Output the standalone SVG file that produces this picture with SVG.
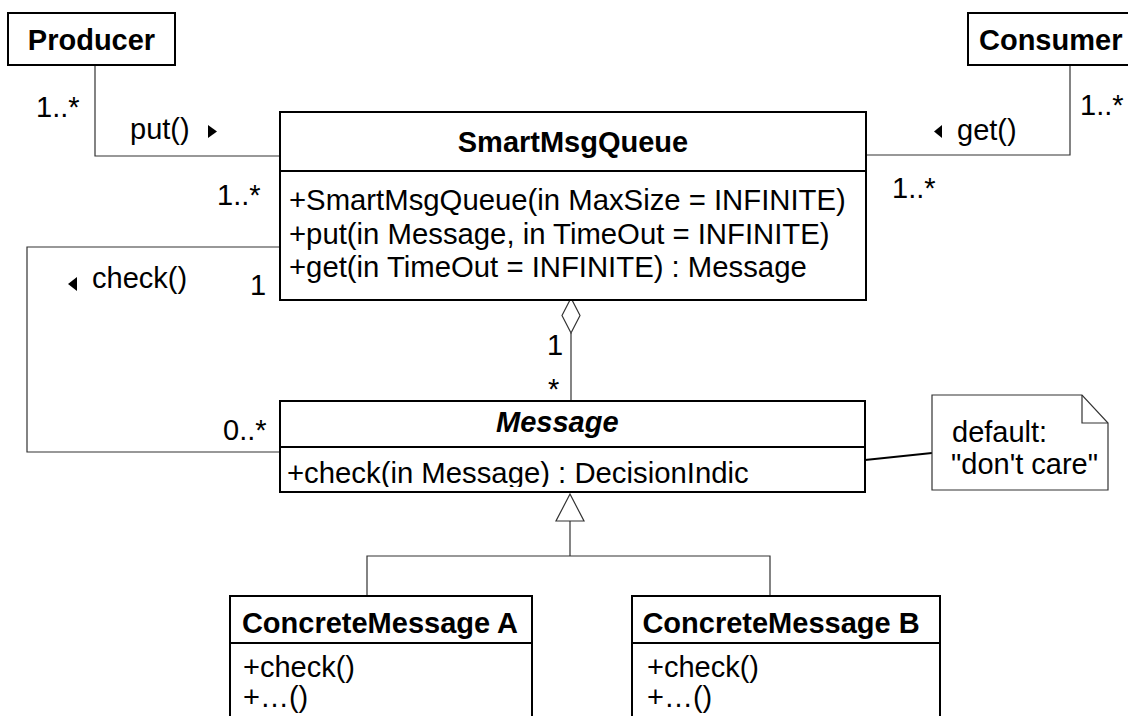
<svg xmlns="http://www.w3.org/2000/svg" width="1128" height="716" viewBox="0 0 1128 716">
<style>
text{font-family:"Liberation Sans",Arial,sans-serif;font-size:29px;fill:#000}
.m{font-size:29.3px}
.b{font-weight:bold}
.bi{font-weight:bold;font-style:italic}
.mid{text-anchor:middle}
.box{fill:#fff;stroke:#000;stroke-width:2}
.sep{stroke:#000;stroke-width:2}
.con{fill:none;stroke:#333;stroke-width:1.2}
.tri{fill:#000}
</style>
<defs>
<clipPath id="msgClip"><rect x="280" y="447" width="585" height="40"/></clipPath>
</defs>
<rect width="1128" height="716" fill="#fff"/>
<g id="connectors">
<polyline class="con" points="95,65 95,156 280,156"/>
<polyline class="con" points="1070,65 1070,155 866,155"/>
<polyline class="con" points="280,247 27,247 27,452 280,452"/>
<line class="con" x1="571" y1="333" x2="571" y2="401"/>
<polygon points="571,298 580,315.5 571,333 562,315.5" fill="#fff" stroke="#333" stroke-width="1.2"/>
<polyline class="con" points="570,521 570,556"/>
<polyline class="con" points="367,596 367,556 770,556 770,596"/>
<polygon points="570,494 584,521 556,521" fill="#fff" stroke="#333" stroke-width="1.2"/>
<line x1="865" y1="460" x2="932" y2="453" stroke="#000" stroke-width="2"/>
<text x="36" y="117">1..*</text>
<text x="130" y="139">put()</text>
<polygon class="tri" points="208,125 217,131.5 208,138"/>
<text x="957" y="140">get()</text>
<polygon class="tri" points="942,125 934,131.5 942,138"/>
<text x="1080" y="115">1..*</text>
<text x="217" y="205">1..*</text>
<text x="892" y="198">1..*</text>
<text x="92" y="288">check()</text>
<polygon class="tri" points="77,277 68,284 77,291"/>
<text x="250" y="295">1</text>
<text x="223" y="440">0..*</text>
<text x="547" y="355">1</text>
<text x="548" y="399">*</text>
</g>
<g id="producer">
<rect class="box" x="8" y="13" width="167" height="52"/>
<text class="b mid" x="91.5" y="50">Producer</text>
</g>
<g id="consumer">
<rect class="box" x="968" y="13" width="180" height="52"/>
<text class="b" x="979" y="50">Consumer</text>
</g>
<g id="smartmsgqueue">
<rect class="box" x="280" y="112" width="586" height="188"/>
<line class="sep" x1="280" y1="171" x2="866" y2="171"/>
<text class="b mid" x="573" y="152">SmartMsgQueue</text>
<text class="m" x="289" y="210">+SmartMsgQueue(in MaxSize = INFINITE)</text>
<text class="m" x="289" y="243.5">+put(in Message, in TimeOut = INFINITE)</text>
<text class="m" x="289" y="277">+get(in TimeOut = INFINITE) : Message</text>
</g>
<g id="message">
<rect class="box" x="280" y="401" width="585" height="91"/>
<line class="sep" x1="280" y1="447" x2="865" y2="447"/>
<text class="bi" x="496" y="432">Message</text>
<text class="m" x="287" y="483" clip-path="url(#msgClip)">+check(in Message) : DecisionIndic</text>
</g>
<g id="note">
<path d="M932,395 L1082,395 L1108,423 L1108,490 L932,490 Z" fill="#fff" stroke="#333" stroke-width="1.2"/>
<path d="M1082,395 L1082,423 L1108,423" fill="none" stroke="#333" stroke-width="1.2"/>
<text x="952" y="442">default:</text>
<text x="951" y="474">"don't care"</text>
</g>
<g id="concreteA">
<rect class="box" x="230" y="596" width="302" height="140"/>
<line class="sep" x1="230" y1="643" x2="532" y2="643"/>
<text class="b mid" x="380" y="633">ConcreteMessage A</text>
<text x="243" y="677">+check()</text>
<text x="243" y="707">+…()</text>
</g>
<g id="concreteB">
<rect class="box" x="632" y="596" width="308" height="140"/>
<line class="sep" x1="632" y1="643" x2="940" y2="643"/>
<text class="b mid" x="781" y="633">ConcreteMessage B</text>
<text x="647" y="677">+check()</text>
<text x="647" y="707">+…()</text>
</g>
</svg>
